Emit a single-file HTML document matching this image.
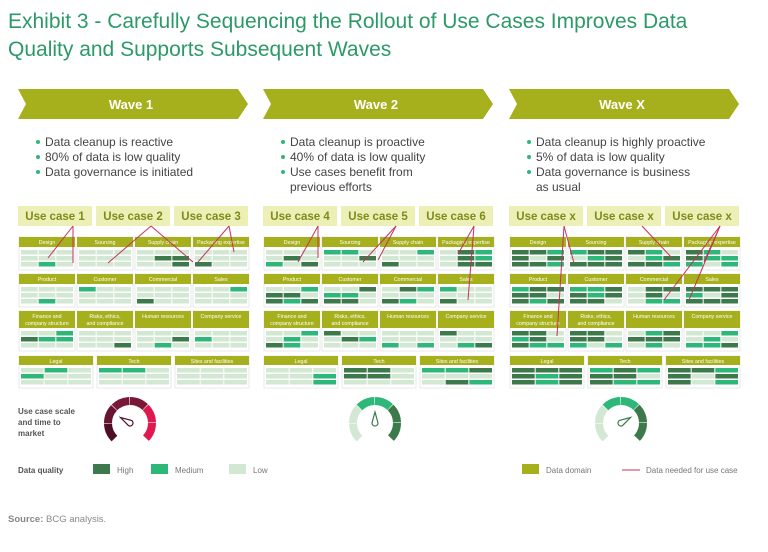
<!DOCTYPE html>
<html><head><meta charset="utf-8"><style>
body{margin:0;background:#fff;width:768px;height:552px;overflow:hidden}
svg{display:block;font-family:"Liberation Sans",sans-serif}
</style></head><body>
<svg id="s" width="768" height="552" viewBox="0 0 768 552" xmlns="http://www.w3.org/2000/svg">
<text x="8" y="28" font-size="21" fill="#2b9a68">Exhibit 3 - Carefully Sequencing the Rollout of Use Cases Improves Data</text>
<text x="8" y="56" font-size="21" fill="#2b9a68">Quality and Supports Subsequent Waves</text>
</svg>
<script>
const S=document.getElementById('s'),NS='http://www.w3.org/2000/svg';
function el(t,a,txt){const e=document.createElementNS(NS,t);for(const k in a)e.setAttribute(k,a[k]);if(txt!==undefined)e.textContent=txt;S.appendChild(e);return e;}
const OL='#a6b01c',C=['#d3e8d3','#2db779','#3c7a4c'];
const waves=[
 {x:18,t:'Wave 1',b:['Data cleanup is reactive','80% of data is low quality','Data governance is initiated'],u:['Use case 1','Use case 2','Use case 3'],p:[.8,.93]},
 {x:263,t:'Wave 2',b:['Data cleanup is proactive','40% of data is low quality','Use cases benefit from','previous efforts'],u:['Use case 4','Use case 5','Use case 6'],p:[.55,.75]},
 {x:509,t:'Wave X',b:['Data cleanup is highly proactive','5% of data is low quality','Data governance is business','as usual'],u:['Use case x','Use case x','Use case x'],p:[.15,.45]}];
let seed=7;function rnd(){seed=(seed*9301+49297)%233280;return seed/233280;}
const names=[['Design','Sourcing','Supply chain','Packaging expertise'],['Product','Customer','Commercial','Sales'],[['Finance and','company structure'],['Risks, ethics,','and compliance'],['Human resources'],['Company service']]];
waves.forEach((w,wi)=>{
 const x=w.x;
 el('polygon',{points:`${x},89 ${x+220},89 ${x+230},104 ${x+220},119 ${x},119 ${x+8},104`,fill:OL});
 el('text',{x:x+113,y:109,'font-size':13,'font-weight':'bold',fill:'#fff','text-anchor':'middle'},w.t);
 let yy=146;
 w.b.forEach((b,i)=>{const cont=(wi>0&&i==3);
  if(!cont)el('circle',{cx:x+20,cy:yy-4,r:2,fill:'#2db779'});
  el('text',{x:x+27,y:yy,'font-size':12,fill:'#444'},b);yy+=15;});
 w.u.forEach((u,i)=>{const ux=x+i*78;
  el('rect',{x:ux,y:206,width:74,height:20,fill:'#ecefb6'});
  el('text',{x:ux+37,y:220,'font-size':11.5,'font-weight':'bold',fill:'#7f8a1a','text-anchor':'middle'},u);});
 const rows=[[237,10],[274,10],[311,17],[356,9]];
 for(let r=0;r<4;r++){
  const n=r==3?3:4,bw=r==3?74:56,st=r==3?78:58,[hy,hh]=rows[r];
  for(let c=0;c<n;c++){
   const bx=x+1+c*st;
   el('rect',{x:bx,y:hy,width:bw,height:hh+23,fill:'#fff',stroke:'#ddd','stroke-width':.6});
   el('rect',{x:bx,y:hy,width:bw,height:hh,fill:OL});
   let nm=r==3?['Legal','Tech','Sites and facilities'][c]:names[r][c];
   if(Array.isArray(nm)){nm.forEach((s,k)=>el('text',{x:bx+bw/2,y:hy+(nm.length==2?7+k*7:7),'font-size':5.3,fill:'#fff','text-anchor':'middle'},s));}
   else el('text',{x:bx+bw/2,y:hy+7,'font-size':5.3,fill:'#fff','text-anchor':'middle'},nm);
   const cw=(bw-6)/3;
   for(let a=0;a<3;a++)for(let b=0;b<3;b++){const q=rnd();const k=q<w.p[0]?0:q<w.p[1]?1:2;
    el('rect',{x:bx+2+b*(cw+1),y:hy+hh+3+a*6,width:cw,height:4.5,fill:C[k]});}
  }}
 const P={0:[[55,226,30,258],[55,226,55,263],[133,226,90,263],[133,226,175,262],[211,226,180,262],[211,226,216,252]],
  1:[[55,226,35,262],[55,226,55,258],[133,226,100,262],[133,226,115,260],[211,226,195,254],[211,226,205,300]],
  2:[[55,226,65,263],[55,226,48,336],[133,226,163,258],[211,226,195,262],[211,226,155,300],[211,226,180,300]]}[wi];
 P.forEach(l=>el('line',{x1:x+l[0],y1:l[1],x2:x+l[2],y2:l[3],stroke:'#c8305a','stroke-width':1}));
 const cx=x+112,cy=423,R=26,th=8;
 const cols=[['#4e0f25','#6a1433','#7a1838','#7a1838','#e0184f','#e0184f'],['#d3e8d3','#d3e8d3','#2db779','#2db779','#3c7a4c','#3c7a4c'],['#d3e8d3','#d3e8d3','#2db779','#2db779','#3c7a4c','#3c7a4c']][wi];
 for(let s=0;s<6;s++){const a0=(225-s*45)*Math.PI/180,a1=(225-(s+1)*45+1.5)*Math.PI/180;
  const p=(a,r)=>[cx+r*Math.cos(a),cy-r*Math.sin(a)];
  const [x0,y0]=p(a0,R),[x1,y1]=p(a1,R),[x2,y2]=p(a1,R-th),[x3,y3]=p(a0,R-th);
  el('path',{d:`M${x0} ${y0}A${R} ${R} 0 0 1 ${x1} ${y1}L${x2} ${y2}A${R-th} ${R-th} 0 0 0 ${x3} ${y3}Z`,fill:cols[s]});}
 const ang=[150,90,30][wi]*Math.PI/180,nc=['#4e0f25','#3c7a4c','#3c7a4c'][wi];
 const tx=cx+11*Math.cos(ang),ty=cy-11*Math.sin(ang),px=-Math.sin(ang)*3,py=-Math.cos(ang)*3;
 el('path',{d:`M${tx} ${ty}L${cx+px} ${cy+py}A3 3 0 1 0 ${cx-px} ${cy-py}Z`,fill:'none',stroke:nc,'stroke-width':1.2});
});
el('text',{x:18,y:414,'font-size':8,'font-weight':'bold',fill:'#555'},'Use case scale');
el('text',{x:18,y:425,'font-size':8,'font-weight':'bold',fill:'#555'},'and time to');
el('text',{x:18,y:436,'font-size':8,'font-weight':'bold',fill:'#555'},'market');
el('text',{x:18,y:473,'font-size':8,'font-weight':'bold',fill:'#555'},'Data quality');
[[93,C[2],'High'],[151,C[1],'Medium'],[229,C[0],'Low']].forEach(([lx,c,t])=>{el('rect',{x:lx,y:464,width:17,height:10,fill:c});el('text',{x:lx+24,y:473,'font-size':8,fill:'#777'},t);});
el('rect',{x:522,y:464,width:17,height:10,fill:OL});el('text',{x:546,y:473,'font-size':8,fill:'#777'},'Data domain');
el('line',{x1:622,y1:470,x2:640,y2:470,stroke:'#c8305a','stroke-width':1});el('text',{x:646,y:473,'font-size':8,fill:'#777'},'Data needed for use case');
const st=el('text',{x:8,y:522,'font-size':9.5,fill:'#888'});st.innerHTML='<tspan font-weight="bold">Source:</tspan> BCG analysis.';
</script>
</body></html>
